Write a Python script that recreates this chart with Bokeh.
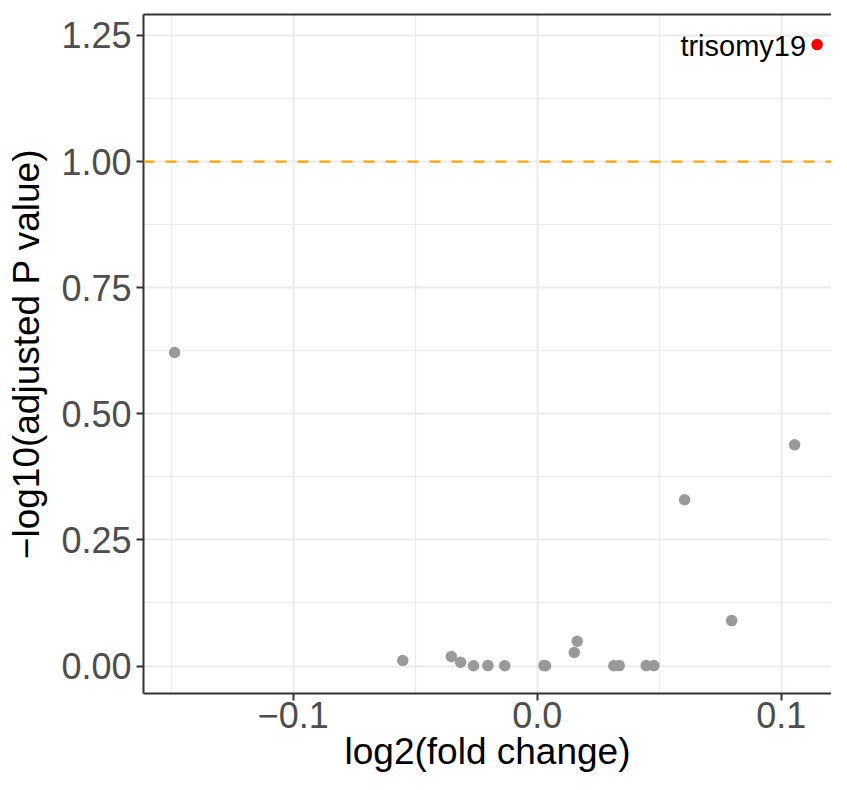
from bokeh.plotting import figure
from bokeh.models import Range1d, FixedTicker, LinearAxis, Span, ColumnDataSource
from bokeh.embed import file_html
from bokeh.resources import INLINE
from bokeh.core.properties import value

# ---- data ----
log2fc = [-0.1486, -0.0551, -0.0352, -0.0314, -0.0261, -0.0202, -0.0133,
          0.0028, 0.0034, 0.0152, 0.0164, 0.0314, 0.0336, 0.0447, 0.0478,
          0.0604, 0.0797, 0.1055]
neglog10_padj = [0.6215, 0.0109, 0.0188, 0.0075, 0.0005, 0.0008, 0.0005,
                 0.0008, 0.0004, 0.0268, 0.0490, 0.0005, 0.0008, 0.0008, 0.0008,
                 0.3295, 0.0900, 0.4385]
sig_log2fc = [0.1147]
sig_neglog10_padj = [1.232]
sig_label = ["trisomy19"]
threshold = 1.0

x_ticks = [-0.1, 0.0, 0.1]
x_minor = [-0.15, -0.05, 0.05]
x_tick_labels = ["\u22120.1", "0.0", "0.1"]
y_ticks = [0.0, 0.25, 0.5, 0.75, 1.0, 1.25]
y_minor = [0.125, 0.375, 0.625, 0.875, 1.125]
y_tick_labels = ["0.00", "0.25", "0.50", "0.75", "1.00", "1.25"]

FONT = "Liberation Sans"
BORDER = "#333333"
GRID = "#EBEBEB"

p = figure(width=831, height=774,
           x_range=Range1d(-0.16135, 0.12061),
           y_range=Range1d(-0.0545, 1.2916),
           output_backend="svg", toolbar_location=None,
           min_border_left=143, min_border_right=0,
           min_border_top=14, min_border_bottom=81)
p.background_fill_color = "white"
p.border_fill_color = "white"
p.outline_line_color = None

# ticks
p.xaxis.ticker = FixedTicker(ticks=x_ticks, minor_ticks=x_minor)
p.yaxis.ticker = FixedTicker(ticks=y_ticks, minor_ticks=y_minor)
p.xaxis.major_label_overrides = dict(zip(x_ticks, x_tick_labels))
p.yaxis.major_label_overrides = dict(zip(y_ticks, y_tick_labels))

for ax in (p.xaxis, p.yaxis):
    ax.axis_line_color = BORDER
    ax.axis_line_width = 2
    ax.major_tick_line_color = BORDER
    ax.major_tick_line_width = 2
    ax.major_tick_in = 0
    ax.major_tick_out = 7
    ax.minor_tick_in = 0
    ax.minor_tick_out = 0
    ax.major_label_text_font = FONT
    ax.major_label_text_font_size = "36px"
    ax.major_label_text_color = "#4D4D4D"
    ax.axis_label_text_font = FONT
    ax.axis_label_text_font_size = "37px"
    ax.axis_label_text_font_style = "normal"
    ax.axis_label_text_color = "black"

p.xaxis.axis_label = "log2(fold change)"
p.yaxis.axis_label = "\u2212log10(adjusted P value)"
p.xaxis.major_label_standoff = 1
p.yaxis.major_label_standoff = 5
p.xaxis.axis_label_standoff = 0
p.yaxis.axis_label_standoff = 11

# top border
top = LinearAxis(ticker=FixedTicker(ticks=[]), axis_line_color=BORDER,
                 axis_line_width=2, major_tick_out=0, major_tick_in=0,
                 minor_tick_out=0, minor_tick_in=0,
                 major_label_text_font_size="0px", major_label_standoff=0)
p.add_layout(top, "above")

# grids
p.xgrid.grid_line_color = GRID
p.ygrid.grid_line_color = GRID
p.xgrid.grid_line_width = 2
p.ygrid.grid_line_width = 2
p.xgrid.minor_grid_line_color = GRID
p.ygrid.minor_grid_line_color = GRID
p.xgrid.minor_grid_line_width = 1.2
p.ygrid.minor_grid_line_width = 1.2

# threshold line
p.add_layout(Span(location=threshold, dimension="width", line_color="#FFA500",
                  line_width=2.2, line_dash="11 11"))

src = ColumnDataSource(dict(x=log2fc, y=neglog10_padj))
p.scatter("x", "y", source=src, size=11.5, fill_color="#999999",
          line_color=None)

sig = ColumnDataSource(dict(x=sig_log2fc, y=sig_neglog10_padj, t=sig_label))
p.scatter("x", "y", source=sig, size=11.5, fill_color="#FF0000",
          line_color=None)
p.text("x", "y", text="t", source=sig, x_offset=-11, y_offset=1,
       text_align="right", text_baseline="middle",
       text_font=value(FONT), text_font_size="29px", text_color="black")

open("out.html", "w").write(file_html(p, INLINE))
